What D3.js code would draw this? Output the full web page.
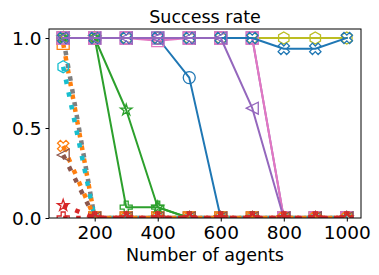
<!DOCTYPE html>
<html>
<head>
<meta charset="utf-8">
<script src="https://cdn.jsdelivr.net/npm/d3@7"></script>
<style>
  html, body { margin: 0; padding: 0; background: #fff; }
  svg { display: block; }
  text { font-family: "DejaVu Sans", sans-serif; fill: #000; }
</style>
</head>
<body>
<svg id="chart" width="379" height="275"></svg>
<script>
// ---------------- data ----------------
const agents = [100, 200, 300, 400, 500, 600, 700, 800, 900, 1000];
const xTicks = [200, 400, 600, 800, 1000];
const yTicks = [0.0, 0.5, 1.0];
const titleText = "Success rate";
const xLabelText = "Number of agents";

// solid series
const blueCircle   = [1, 1, 1, 1, 0.78, 0, 0, 0, 0, 0];
const greenStar    = [1, 1, 0.6, 0.06, 0, 0, 0, 0, 0, 0];
const greenPlus    = [1, 1, 0.06, 0.06, 0, 0, 0, 0, 0, 0];
const oliveHex     = [1, 1, 1, 1, 1, 1, 1, 1, 1, 1];
const purpleSquare = [1, 1, 1, 1, 1, 1, 1, 0, 0, 0];
const pinkSquare   = [1, 1, 1, 0.985, 1, 1, 1, 0, 0, 0];
const blueX        = [1, 1, 1, 1, 1, 1, 1, 0.94, 0.94, 1];
const purpleTri    = [1, 1, 1, 1, 1, 1, 0.61, 0, 0, 0];
// dotted series
const grayDot      = [1, 0, 0, 0, 0, 0, 0, 0, 0, 0];
const orangeDot    = [0.97, 0, 0, 0, 0, 0, 0, 0, 0, 0];
const cyanDot      = [0.84, 0, 0, 0, 0, 0, 0, 0, 0, 0];
const orangeXDot   = [0.40, 0, 0, 0, 0, 0, 0, 0, 0, 0];
const brownDot     = [0.35, 0, 0, 0, 0, 0, 0, 0, 0, 0];
const redStarDot   = [0.07, 0, 0, 0, 0, 0, 0, 0, 0, 0];
const redPlusDot   = [0.0, 0, 0, 0, 0, 0, 0, 0, 0, 0];

// drawing order (matplotlib-like: each line then its markers)
const series = [
  { v: grayDot,      c: "#7f7f7f", m: "s", dot: true },
  { v: orangeDot,    c: "#ff7f0e", m: "s", dot: true },
  { v: blueCircle,   c: "#1f77b4", m: "o" },
  { v: greenStar,    c: "#2ca02c", m: "*" },
  { v: greenPlus,    c: "#2ca02c", m: "P" },
  { v: oliveHex,     c: "#bcbd22", m: "h" },
  { v: purpleSquare, c: "#9467bd", m: "s" },
  { v: pinkSquare,   c: "#e377c2", m: "s" },
  { v: blueX,        c: "#1f77b4", m: "X" },
  { v: purpleTri,    c: "#9467bd", m: "<" },
  { v: cyanDot,      c: "#17becf", m: "h", dot: true },
  { v: orangeXDot,   c: "#ff7f0e", m: "X", dot: true },
  { v: brownDot,     c: "#8c564b", m: "<", dot: true },
  { v: redStarDot,   c: "#d62728", m: "*", dot: true },
  { v: redPlusDot,   c: "#d62728", m: "P", dot: true }
];

// ---------------- layout ----------------
const L = 49, T = 29, R = 361, B = 218;
const svg = d3.select("#chart");
const x = d3.scaleLinear().domain([55, 1045]).range([L, R]);
const y = d3.scaleLinear().domain([0, 1.05]).range([B, T]);

svg.append("defs").append("clipPath").attr("id", "clip")
  .append("rect").attr("x", L).attr("y", T).attr("width", R - L).attr("height", B - T);

// marker paths
const MR = 6;
function poly(pts) { return "M" + pts.map(p => p[0].toFixed(2) + "," + p[1].toFixed(2)).join("L") + "Z"; }
function rot(pts, a) { const c = Math.cos(a), s = Math.sin(a); return pts.map(p => [p[0]*c - p[1]*s, p[0]*s + p[1]*c]); }
function markerPath(m) {
  const r = MR;
  if (m === "o") return `M${r},0A${r},${r} 0 1,1 ${-r},0A${r},${r} 0 1,1 ${r},0Z`;
  if (m === "s") return poly([[-r,-r],[r,-r],[r,r],[-r,r]]);
  if (m === "P" || m === "X") {
    const a = r / 3;
    let pts = [[-a,-r],[a,-r],[a,-a],[r,-a],[r,a],[a,a],[a,r],[-a,r],[-a,a],[-r,a],[-r,-a],[-a,-a]];
    if (m === "X") pts = rot(pts, Math.PI / 4);
    return poly(pts);
  }
  if (m === "*") {
    const pts = [];
    for (let i = 0; i < 10; i++) {
      const rr = i % 2 === 0 ? r : r * 0.381966;
      const ang = -Math.PI / 2 + i * Math.PI / 5;
      pts.push([rr * Math.cos(ang), rr * Math.sin(ang)]);
    }
    return poly(pts);
  }
  if (m === "<") return poly([[-r,0],[r,-r],[r,r]]);
  if (m === "h") {
    const pts = [];
    for (let i = 0; i < 6; i++) {
      const ang = -Math.PI / 2 + i * Math.PI / 3;
      pts.push([r * Math.cos(ang), r * Math.sin(ang)]);
    }
    return poly(pts);
  }
  return "";
}

const plot = svg.append("g").attr("clip-path", "url(#clip)");
const line = d3.line().x((d, i) => x(agents[i])).y(d => y(d));

series.forEach(s => {
  const g = plot.append("g");
  g.append("path")
    .attr("d", line(s.v))
    .attr("fill", "none")
    .attr("stroke", s.c)
    .attr("stroke-width", s.dot ? 4.5 : 2)
    .attr("stroke-dasharray", s.dot ? "4.5 8.5" : null)
    .attr("stroke-linecap", s.dot ? "butt" : "square")
    .attr("stroke-linejoin", "round");
  g.selectAll("path.mk").data(s.v).enter().append("path")
    .attr("class", "mk")
    .attr("transform", (d, i) => `translate(${x(agents[i])},${y(d)})`)
    .attr("d", markerPath(s.m))
    .attr("fill", "none")
    .attr("stroke", s.c)
    .attr("stroke-width", 1.3);
});

// axes
const xAxis = d3.axisBottom(x).tickValues(xTicks).tickSize(3.5).tickPadding(4).tickFormat(d3.format("d"));
const yAxis = d3.axisLeft(y).tickValues(yTicks).tickSize(3.5).tickPadding(4).tickFormat(d3.format(".1f"));

const gx = svg.append("g").attr("transform", `translate(0,${B})`).call(xAxis);
const gy = svg.append("g").attr("transform", `translate(${L},0)`).call(yAxis);
[gx, gy].forEach(g => {
  g.select(".domain").remove();
  g.selectAll("line").attr("stroke", "#000").attr("stroke-width", 1);
  g.selectAll("text").style("font-size", "18.5px").style("font-family", "DejaVu Sans, sans-serif").attr("fill", "#000");
});
gy.selectAll("text").attr("dy", "0.36em");

// frame
svg.append("rect").attr("x", L).attr("y", T).attr("width", R - L).attr("height", B - T)
  .attr("fill", "none").attr("stroke", "#000").attr("stroke-width", 1);

// title & label
svg.append("text").attr("x", (L + R) / 2).attr("y", 22.5).attr("text-anchor", "middle")
  .style("font-size", "17.5px").text(titleText);
svg.append("text").attr("x", (L + R) / 2).attr("y", 261).attr("text-anchor", "middle")
  .style("font-size", "17.5px").text(xLabelText);
</script>
</body>
</html>
